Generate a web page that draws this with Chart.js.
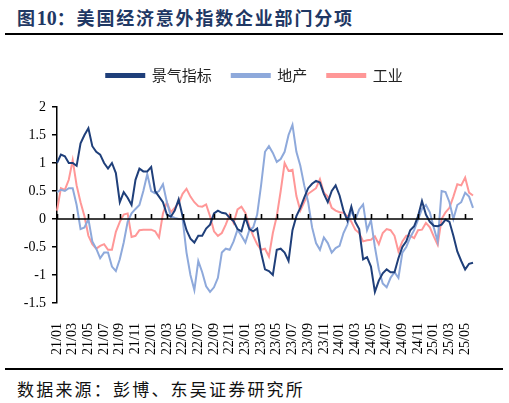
<!DOCTYPE html>
<html>
<head>
<meta charset="utf-8">
<script src="https://cdn.jsdelivr.net/npm/chart.js@4.4.1/dist/chart.umd.min.js"></script>
<style>
body{margin:0;width:509px;height:403px;overflow:hidden;background:#fff;position:relative;font-family:"Noto Sans CJK SC",sans-serif;}
#title{position:absolute;left:17px;top:4px;font-size:18px;font-weight:bold;color:#1F3864;letter-spacing:1.8px;white-space:nowrap;}
#title .num{font-family:"Liberation Serif",serif;font-size:20px;letter-spacing:0;}
.rule{position:absolute;left:5px;width:498px;height:2px;background:#000;}
#src{position:absolute;left:17px;top:376px;font-size:17px;color:#111;letter-spacing:2.2px;white-space:nowrap;}
#wrap{position:absolute;left:0;top:40px;width:509px;height:325px;}
</style>
</head>
<body>
<div id="title">图<span class="num">10</span>：美国经济意外指数企业部门分项</div>
<div class="rule" style="top:33px"></div>
<div id="wrap"><canvas id="c"></canvas></div>
<div class="rule" style="top:368px"></div>
<div id="src">数据来源：彭博、东吴证券研究所</div>
<script>
// 半月一个点，2021/01 上半月 ~ 2025/06 上半月
const tickLabels = ['21/01','21/03','21/05','21/07','21/09','21/11','22/01','22/03','22/05','22/07','22/09','22/11',
  '23/01','23/03','23/05','23/07','23/09','23/11','24/01','24/03','24/05','24/07','24/09','24/11','25/01','25/03','25/05'];

const jingqi = [1.0,1.15,1.12,1.0,1.0,0.95,1.35,1.5,1.62,1.3, 1.2,1.15,1.0,0.9,1.0,0.82,0.3,0.48,0.38,0.25,
  0.7,0.9,0.85,0.85,0.93,0.5,0.4,0.3,0.08,0.04, 0.15,0.35,0.05,-0.2,-0.35,-0.42,-0.3,-0.3,-0.17,-0.1,
  0.1,0.15,0.11,0.1,0.02,-0.04,-0.18,-0.22,0.03,-0.18, -0.22,-0.17,-0.6,-0.9,-0.93,-1.0,-0.55,-0.53,-0.6,-0.75,
  -0.2,0.05,0.2,0.38,0.55,0.63,0.68,0.65,0.45,0.3, 0.5,0.6,0.42,0.15,-0.03,0.22,-0.05,-0.18,-0.72,-0.68,
  -0.85,-1.3,-1.1,-0.97,-0.9,-0.95,-0.95,-0.7,-0.5,-0.4, -0.2,-0.13,0.05,0.32,0.08,-0.05,-0.12,-0.13,-0.1,-0.01,
  -0.05,-0.3,-0.58,-0.75,-0.9,-0.8,-0.78];

const dichan = [0.48,0.52,0.5,0.55,0.55,0.25,-0.18,-0.15,0.0,-0.4, -0.53,-0.7,-0.6,-0.6,-0.85,-0.93,-0.72,-0.42,-0.05,0.1,
  0.18,0.25,0.5,0.8,0.5,0.46,0.5,0.62,0.3,0.05, 0.02,0.0,0.0,-0.6,-1.0,-1.27,-0.75,-0.95,-1.2,-1.3,
  -1.22,-1.05,-0.6,-0.53,-0.55,-0.4,-0.19,-0.3,-0.42,-0.2, -0.15,0.08,0.6,1.2,1.3,1.18,1.02,1.07,1.2,1.5,
  1.68,1.2,0.95,0.6,0.3,-0.15,-0.43,-0.55,-0.33,-0.43, -0.6,-0.52,-0.48,-0.25,-0.1,0.15,-0.02,0.17,0.26,-0.2,
  -0.02,-0.5,-0.9,-1.15,-1.22,-1.05,-0.95,-1.05,-0.6,-0.5, -0.33,-0.2,-0.01,0.18,0.25,0.12,-0.15,-0.4,0.5,0.48,
  0.3,0.0,0.25,0.3,0.47,0.4,0.2];

const gongye = [0.15,0.55,0.52,0.7,1.05,0.6,0.3,0.05,-0.3,-0.45, -0.53,-0.48,-0.45,-0.55,-0.55,-0.23,-0.05,0.08,0.1,-0.32,
  -0.3,-0.2,-0.19,-0.19,-0.19,-0.22,-0.33,0.1,0.3,0.12, 0.2,0.28,0.45,0.54,0.4,0.3,0.23,0.22,0.26,0.05,
  -0.22,-0.3,-0.25,-0.1,0.08,-0.07,0.17,0.22,0.11,-0.13, -0.3,-0.45,-0.55,-0.53,-0.67,-0.25,0.05,0.5,1.0,0.86,
  0.88,0.41,0.15,0.3,0.45,0.5,0.55,0.71,0.47,0.4, 0.2,0.15,0.12,0.11,0.05,-0.05,-0.19,-0.25,-0.4,-0.38,
  -0.37,-0.31,-0.45,-0.25,-0.18,-0.2,-0.3,-0.58,-0.4,-0.3, -0.3,-0.34,-0.2,-0.19,-0.07,-0.15,-0.31,-0.46,0.0,0.12,
  0.2,0.4,0.62,0.6,0.74,0.47,0.42];

const categories = [];
for (let k = 0; k < jingqi.length; k++) {
  const m = Math.floor(k / 2), yr = 21 + Math.floor(m / 12), mo = m % 12 + 1;
  categories.push(yr + '/' + String(mo).padStart(2, '0') + (k % 2 ? '下' : '上'));
}

const serif = {family:'"Liberation Serif","Times New Roman",serif', size:14};

// 零轴及刻度
const zeroAxis = {
  id:'zeroAxis',
  afterDatasetsDraw(chart){
    const {ctx, chartArea, scales:{x, y}} = chart;
    const y0 = y.getPixelForValue(0);
    ctx.save();
    ctx.strokeStyle = '#000'; ctx.lineWidth = 1.6;
    ctx.beginPath();
    ctx.moveTo(chartArea.left, y0); ctx.lineTo(chartArea.right, y0);
    for (let i = 0; i < categories.length; i += 4) {
      const px = Math.round(x.getPixelForValue(i)) + 0.5;
      ctx.moveTo(px, y0); ctx.lineTo(px, y0 - 5);
    }
    ctx.stroke();
    ctx.restore();
  }
};

const legendGap = {
  id:'legendGap',
  beforeInit(chart){
    const fit = chart.legend.fit;
    chart.legend.fit = function(){ fit.bind(chart.legend)(); this.height += 14; };
  }
};

new Chart(document.getElementById('c'), {
  type:'line',
  data:{
    labels:categories,
    datasets:[
      {label:'景气指标', data:jingqi, borderColor:'#1F3F7A', backgroundColor:'#1F3F7A'},
      {label:'地产', data:dichan, borderColor:'#8EA9DB', backgroundColor:'#8EA9DB'},
      {label:'工业', data:gongye, borderColor:'#FF9797', backgroundColor:'#FF9797'}
    ]
  },
  options:{
    responsive:true, maintainAspectRatio:false, animation:false,
    layout:{padding:{top:8, left:0, right:0, bottom:0}},
    elements:{line:{borderWidth:2, tension:0}, point:{radius:0}},
    plugins:{
      legend:{position:'top', labels:{boxWidth:38, boxHeight:3, padding:20, color:'#222',
        font:{family:'"Noto Sans CJK SC",sans-serif', size:15}}},
      tooltip:{enabled:false}
    },
    scales:{
      x:{
        grid:{display:false}, border:{display:false},
        ticks:{autoSkip:false, minRotation:90, maxRotation:90, padding:12, color:'#000', font:serif,
          callback:(v, i) => i % 4 === 0 ? tickLabels[i / 4] : null},
        afterFit:s => { s.height = 62; }
      },
      y:{
        min:-1.5, max:2,
        ticks:{stepSize:0.5, padding:6, color:'#000', font:serif,
          callback:v => String(Math.round(v * 10) / 10)},
        grid:{drawOnChartArea:false, drawTicks:true, tickLength:5, color:'#000', lineWidth:1.5},
        border:{display:true, color:'#000', width:1.5},
        afterFit:s => { s.width = 57; }
      },
      yr:{
        position:'right', display:true,
        ticks:{display:false}, grid:{display:false}, border:{display:false},
        afterFit:s => { s.width = 36; }
      }
    }
  },
  plugins:[zeroAxis, legendGap]
});
</script>
</body>
</html>
